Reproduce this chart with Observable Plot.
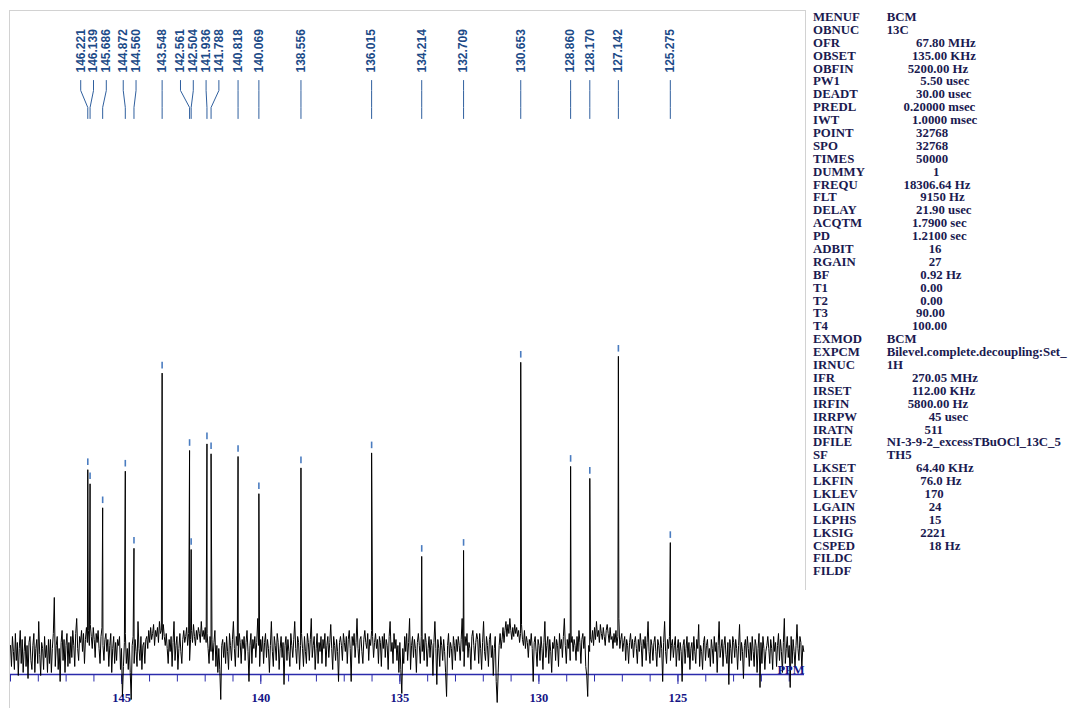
<!DOCTYPE html>
<html><head><meta charset="utf-8">
<script src="https://cdn.jsdelivr.net/npm/d3@7"></script>
<script src="https://cdn.jsdelivr.net/npm/@observablehq/plot@0.6"></script>
<style>
html,body{margin:0;padding:0;background:#fff;}
#wrap{position:relative;width:1070px;height:708px;overflow:hidden;background:#fff;}
#chart{position:absolute;left:0;top:0;}
.frame{position:absolute;background:#d2d2d2;}
#params{position:absolute;left:813px;top:11px;font-family:"Liberation Serif","Times New Roman",serif;font-weight:bold;font-size:12.8px;line-height:12.9px;color:#1a1a50;white-space:pre;}
.row{position:relative;height:12.9px;}
.row span{position:absolute;top:0;}
</style></head>
<body><div id="wrap">
<div class="frame" style="left:9px;top:10px;width:797px;height:1px"></div>
<div class="frame" style="left:9px;top:10px;width:1px;height:698px"></div>
<div class="frame" style="left:805px;top:10px;width:1px;height:580px"></div>
<div id="chart"></div><div id="params"></div></div>
<script>
// ---- data ----
const peakPpm = [146.221,146.139,145.686,144.872,144.560,143.548,142.561,142.504,141.936,141.788,140.818,140.069,138.556,136.015,134.214,132.709,130.653,128.860,128.170,127.142,125.275];
const peakHeight = [61.6,56.9,48.9,61.1,35.4,93.8,68.0,35.0,70.2,66.9,66.0,53.6,62.2,67.2,32.7,34.7,97.4,62.7,58.7,99.4,37.3];

// baseline noise, one value every 0.035 ppm from 149.0 ppm
const noiseStart = 149.0, noiseStep = 0.035;
const noise = [
3,-4,6,1,-5,7,-2,4,-7,2,8,-3,5,-6,1,6,-4,3,-8,4,
6,-2,-5,3,7,-6,2,5,-3,11,0,-7,4,2,-5,6,-1,3,-6,5,
-3,5,-6,2,7,19,-4,3,6,-5,2,-9,4,8,-2,5,-6,3,7,-4,
4,-3,6,-1,8,3,-4,7,12,2,-2,6,4,8,1,7,-3,5,9,4,
8,3,10,6,2,9,5,-1,7,4,8,2,-3,6,9,3,-2,5,7,1,
5,-4,3,7,-6,2,6,-3,4,-2,5,3,6,-5,2,-14,-4,4,7,-3,
2,-5,4,-6,-15,3,6,-3,5,1,-4,11,2,-2,6,-5,3,4,-3,5,
6,2,8,4,9,5,7,10,3,8,6,9,4,11,7,8,5,10,6,3,
7,2,-3,5,1,6,-4,4,11,-2,3,6,-5,2,7,1,-3,5,8,4,
6,9,3,7,-2,5,8,4,10,6,3,8,5,9,7,4,11,6,8,5,
9,4,7,2,-3,6,1,5,-2,4,8,-4,3,-6,2,-5,-15,3,5,-1,
4,-3,6,1,-5,7,3,-2,5,11,2,-4,6,3,-1,7,4,-3,5,2,
6,-2,4,8,1,-9,3,7,-3,5,2,6,-1,4,12,3,-4,5,1,6,
-3,4,7,-1,5,2,-6,3,11,1,-4,6,3,-2,7,4,-5,2,6,-1,
4,-10,3,6,-2,5,1,-4,7,3,-1,5,11,2,-3,6,4,-5,3,7,
2,-4,6,1,-3,7,4,-2,5,12,-1,3,6,-5,2,7,-3,4,1,6,
-3,5,2,7,-4,3,6,-1,4,10,2,-5,6,3,-2,5,1,-9,4,6,
3,-2,7,4,1,6,-3,5,8,2,-9,6,3,7,-1,4,12,2,-3,5,
6,1,-3,5,8,4,2,7,-2,5,3,8,6,-1,4,7,2,5,-3,6,
4,-4,6,2,7,-1,5,3,-5,6,11,1,4,-3,7,2,5,-2,3,-6,
4,-5,-13,2,-3,6,1,7,-2,4,12,-5,3,6,-1,5,2,-6,4,7,
3,-3,6,1,5,-2,7,4,-4,2,6,-1,5,3,-7,4,11,2,-10,5,
2,-4,6,3,-2,5,1,-6,-14,3,7,-1,4,2,-5,6,3,-2,5,1,
6,3,-2,5,12,1,-4,6,3,7,-1,4,2,-5,6,8,3,-2,4,7,
5,-3,7,2,-5,4,11,1,-2,6,3,-4,5,7,-1,3,-7,2,6,-9,
-16,-6,3,7,2,5,9,4,8,11,6,10,7,12,8,5,9,6,10,7,
9,6,8,4,7,10,5,3,8,2,6,4,-1,5,3,7,2,-9,4,6,
1,-4,5,3,-2,6,2,-5,4,11,-1,3,6,-3,5,1,-6,4,2,6,
-2,5,3,-4,7,2,5,-1,6,12,3,-3,5,2,7,-2,4,6,1,5,
3,-2,6,1,8,4,-3,5,7,2,6,-4,-7,-14,3,1,5,4,8,3,
9,5,11,6,8,4,10,7,5,9,6,3,8,10,7,4,9,5,6,2,
7,4,8,3,6,12,2,5,7,1,4,6,-2,5,3,-3,4,7,2,5,
-1,4,6,2,-3,5,1,7,3,-4,5,2,6,-2,4,11,1,-3,5,3,
-2,4,6,1,-4,5,3,-1,6,2,-9,4,11,1,-3,5,2,6,-2,3,
5,-1,3,6,-4,2,5,-2,4,1,-9,3,5,-3,2,6,-1,4,-5,2,
4,-2,6,1,-3,5,2,10,-4,3,1,-5,4,6,-2,3,5,-1,2,-4,
5,2,-3,6,1,4,-6,3,11,-1,2,5,-4,3,6,0,-3,4,-10,5,
2,-3,6,4,-1,5,2,-5,3,10,-2,4,1,-8,3,5,-1,6,2,-4,
4,-2,6,1,-4,5,3,-6,2,7,-11,4,-3,6,2,-5,1,3,6,2,
-3,5,2,-5,6,1,4,-4,3,7,-2,5,1,-6,4,12,-3,2,6,-1,
3,-11,6,-3,5,1,-4,3,10,2,-2,6,4,-5,3,1
];

const minorTicks = d3.range(121, 150);
const majorTicks = [145, 140, 135, 130, 125];
const axisUnit = "PPM";

const paramKeys = ["MENUF","OBNUC","OFR","OBSET","OBFIN","PW1","DEADT","PREDL","IWT","POINT","SPO","TIMES","DUMMY","FREQU","FLT","DELAY","ACQTM","PD","ADBIT","RGAIN","BF","T1","T2","T3","T4","EXMOD","EXPCM","IRNUC","IFR","IRSET","IRFIN","IRRPW","IRATN","DFILE","SF","LKSET","LKFIN","LKLEV","LGAIN","LKPHS","LKSIG","CSPED","FILDC","FILDF"];
const paramValues = ["BCM","13C","       67.80 MHz","      135.00 KHz","     5200.00 Hz","        5.50 usec","       30.00 usec","    0.20000 msec","      1.0000 msec","       32768","       32768","       50000","           1","    18306.64 Hz","        9150 Hz","       21.90 usec","      1.7900 sec","      1.2100 sec","          16","          27","        0.92 Hz","        0.00","        0.00","       90.00","      100.00","BCM","Bilevel.complete.decoupling:Set_","1H","      270.05 MHz","      112.00 KHz","     5800.00 Hz","          45 usec","         511","NI-3-9-2_excessTBuOCl_13C_5","TH5","       64.40 KHz","        76.0 Hz","         170","          24","          15","        2221","          18 Hz","",""];

// ---- layout ----
const xDomain = [149.0, 120.45], xRange = [10, 804];
const yDomain = [-6.667, 218], yRange = [674, 0];
const xs = d3.scaleLinear(xDomain, xRange);
const ys = d3.scaleLinear(yDomain, yRange);
const Y = px => ys.invert(px);

// spectrum trace: baseline samples merged with the peak apexes
const spectrum = noise.map((v, i) => ({ppm: noiseStart - i * noiseStep, v}))
  .concat(peakPpm.map((p, i) => ({ppm: p, v: peakHeight[i]})))
  .sort((a, b) => b.ppm - a.ppm);

// peaks + label dodge
const peaks = peakPpm.map((p, i) => ({ppm: p, h: peakHeight[i], px: xs(p)}));
const gap = 12.8;
let clusters = peaks.map(d => ({items: [d], mean: d.px}));
let merged = true;
while (merged) {
  merged = false;
  for (let k = 0; k < clusters.length - 1; k++) {
    const a = clusters[k], b = clusters[k + 1];
    const aEnd = a.mean + (a.items.length - 1) * gap / 2;
    const bStart = b.mean - (b.items.length - 1) * gap / 2;
    if (bStart - aEnd < gap) {
      const items = a.items.concat(b.items);
      clusters.splice(k, 2, {items, mean: d3.mean(items, d => d.px)});
      merged = true; break;
    }
  }
}
clusters.forEach(c => c.items.forEach((d, j) => {
  d.lpx = c.mean - (c.items.length - 1) * gap / 2 + j * gap;
  d.lppm = xs.invert(d.lpx);
}));
const leaders = peaks.flatMap(d => [
  {id: d.ppm, x: d.lppm, y: Y(80)},
  {id: d.ppm, x: d.lppm, y: Y(90)},
  {id: d.ppm, x: d.ppm, y: Y(107)},
  {id: d.ppm, x: d.ppm, y: Y(118)}
]);

const axisBlue = "#2b2bab", axisText = "#151585";
const chart = Plot.plot({
  width: 1070, height: 708,
  marginLeft: 10, marginRight: 266, marginTop: 0, marginBottom: 34,
  x: {domain: xDomain, range: xRange, axis: null},
  y: {domain: yDomain, range: yRange, axis: null},
  style: {background: "transparent", overflow: "visible"},
  marks: [
    Plot.ruleY([Y(674)], {stroke: axisBlue, strokeWidth: 1.3}),
    Plot.ruleX(minorTicks, {x: d => d, y1: Y(674), y2: Y(681.5), stroke: axisBlue}),
    Plot.ruleX(majorTicks, {x: d => d, y1: Y(674), y2: Y(684), stroke: axisBlue}),
    Plot.text(majorTicks, {x: d => d, y: Y(701), text: d => String(d), lineAnchor: "bottom", fill: axisText, fontSize: 12.5, fontWeight: "bold", fontFamily: "Liberation Serif"}),
    Plot.line(spectrum, {x: "ppm", y: "v", stroke: "#000", strokeWidth: 1}),
    Plot.ruleX(peaks, {x: "ppm", y1: d => d.h + 1.4, y2: d => d.h + 3.6, stroke: "#4a7cc0", strokeWidth: 1.6}),
    Plot.line(leaders, {x: "x", y: "y", z: "id", stroke: "#2f5f9e", strokeWidth: 1}),
    Plot.text(peaks, {x: "lppm", y: Y(72), text: d => d.ppm.toFixed(3), rotate: -90, textAnchor: "start", fill: "#1d4b88", fontSize: 12, fontWeight: "bold", fontFamily: "Liberation Sans"}),
    Plot.text([axisUnit], {x: xDomain[1], y: Y(673), text: d => d, textAnchor: "end", lineAnchor: "bottom", fill: axisText, fontSize: 12.5, fontWeight: "bold", fontFamily: "Liberation Serif"})
  ]
});
document.getElementById("chart").appendChild(chart);

// parameter listing
const params = document.getElementById("params");
paramKeys.forEach((k, i) => {
  const raw = paramValues[i];
  const lead = raw.length - raw.trimStart().length;
  const row = document.createElement("div");
  row.className = "row";
  const a = document.createElement("span"); a.textContent = k; a.style.left = "0px";
  const b = document.createElement("span"); b.textContent = raw.trimStart(); b.style.left = (73.7 + lead * 4.2) + "px";
  row.append(a, b);
  params.appendChild(row);
});
</script>
</body></html>
